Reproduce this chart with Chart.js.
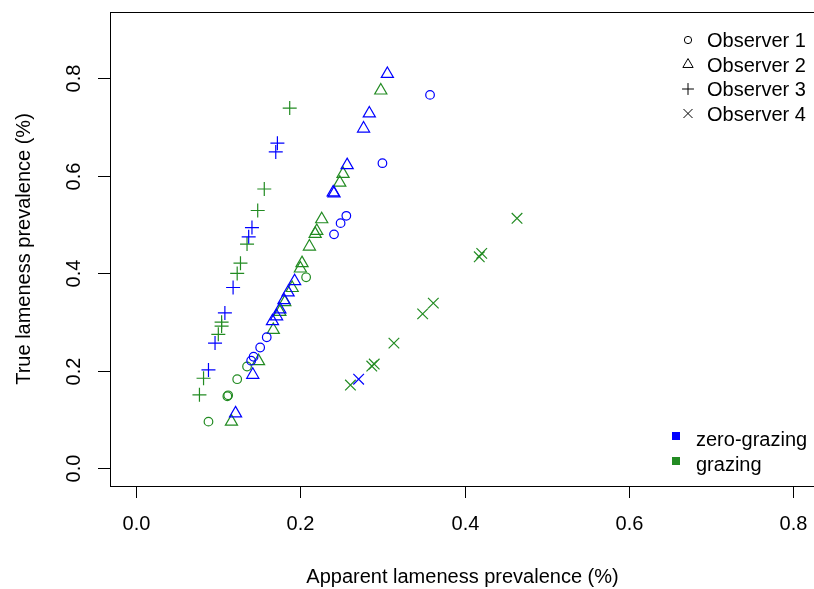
<!DOCTYPE html>
<html>
<head>
<meta charset="utf-8">
<script src="https://cdn.jsdelivr.net/npm/chart.js@4.4.0/dist/chart.umd.min.js"></script>
<style>
  html, body { margin: 0; padding: 0; background: #fff; overflow: hidden; }
  #caja { position: relative; width: 830px; height: 589px; }
</style>
</head>
<body>
<div id="caja"><canvas id="grafico" width="830" height="589"></canvas></div>
<script>
// valores leidos del grafico: [prevalencia aparente, prevalencia real]
// observador 1 (circulos)
var obs1Cero = [[0.358,0.766],[0.300,0.626],[0.256,0.518],[0.249,0.503],[0.241,0.480],
                [0.159,0.269],[0.151,0.248],[0.143,0.229],[0.140,0.221]];
var obs1Pastoreo = [[0.207,0.392],[0.135,0.209],[0.123,0.183],[0.112,0.150],[0.111,0.148],[0.088,0.096]];
// observador 2 (triangulos)
var obs2Cero = [[0.306,0.809],[0.284,0.728],[0.277,0.697],[0.257,0.622],[0.241,0.564],[0.240,0.566],
                [0.193,0.384],[0.185,0.361],[0.180,0.345],[0.175,0.326],[0.171,0.312],[0.166,0.302],
                [0.142,0.192],[0.121,0.113]];
var obs2Pastoreo = [[0.298,0.775],[0.252,0.604],[0.248,0.586],[0.226,0.511],[0.220,0.487],[0.218,0.481],
                    [0.211,0.455],[0.202,0.421],[0.200,0.410],[0.190,0.370],[0.181,0.341],[0.175,0.321],
                    [0.167,0.284],[0.149,0.220],[0.116,0.096]];
// observador 3 (cruces +)
var obs3Cero = [[0.172,0.667],[0.170,0.649],[0.141,0.494],[0.137,0.475],[0.118,0.371],[0.108,0.319],
                [0.096,0.257],[0.088,0.202]];
var obs3Pastoreo = [[0.187,0.739],[0.156,0.573],[0.148,0.529],[0.135,0.460],[0.127,0.421],[0.123,0.400],
                    [0.104,0.300],[0.104,0.292],[0.100,0.275],[0.082,0.185],[0.077,0.151]];
// observador 4 (x)
var obs4Cero = [[0.271,0.183]];
var obs4Pastoreo = [[0.464,0.513],[0.421,0.441],[0.418,0.434],[0.362,0.339],[0.349,0.317],[0.314,0.257],
                    [0.287,0.210],[0.290,0.214],[0.261,0.171]];

// ejes
var ticksEje = [0, 0.2, 0.4, 0.6, 0.8];
var etiquetasEje = ["0.0", "0.2", "0.4", "0.6", "0.8"];
var nombresObservador = ["Observer 1", "Observer 2", "Observer 3", "Observer 4"];
var nombresSistema = ["zero-grazing", "grazing"];

var AZUL = "#0000ff";
var VERDE = "#228b22";
var FUENTE = '20px "Liberation Sans", Arial, sans-serif';

var formas = [
  { estilo: "circle", radio: 4.3 },
  { estilo: "triangle", radio: 7 },
  { estilo: "cross", radio: 7 },
  { estilo: "crossRot", radio: 7.5 }
];

function serie(datos, color, forma) {
  return {
    data: datos.map(function(p) { return { x: p[0], y: p[1] }; }),
    pointStyle: forma.estilo,
    pointRadius: forma.radio,
    pointHoverRadius: forma.radio,
    pointBorderColor: color,
    pointBackgroundColor: "rgba(0,0,0,0)",
    pointBorderWidth: 1.2,
    showLine: false
  };
}

//dibuja los ejes al estilo de R, los titulos y las dos leyendas
var ejesR = {
  id: "ejesR",
  afterDraw: function(chart) {
    var ctx = chart.ctx;
    var area = chart.chartArea;
    var ejeX = chart.scales.x;
    var ejeY = chart.scales.y;
    ctx.save();
    ctx.strokeStyle = "#000";
    ctx.fillStyle = "#000";
    ctx.lineWidth = 1;
    // caja
    ctx.strokeRect(Math.round(area.left) + 0.5, Math.round(area.top) + 0.5,
                   Math.round(area.right - area.left), Math.round(area.bottom - area.top));
    ctx.font = FUENTE;
    // eje x
    ctx.textAlign = "center";
    ctx.textBaseline = "middle";
    ticksEje.forEach(function(v, i) {
      var px = Math.round(ejeX.getPixelForValue(v)) + 0.5;
      ctx.beginPath();
      ctx.moveTo(px, area.bottom);
      ctx.lineTo(px, area.bottom + 12);
      ctx.stroke();
      ctx.fillText(etiquetasEje[i], px, 524);
    });
    // eje y
    ticksEje.forEach(function(v, i) {
      var py = Math.round(ejeY.getPixelForValue(v)) + 0.5;
      ctx.beginPath();
      ctx.moveTo(area.left, py);
      ctx.lineTo(area.left - 12, py);
      ctx.stroke();
      ctx.save();
      ctx.translate(74, py);
      ctx.rotate(-Math.PI / 2);
      ctx.fillText(etiquetasEje[i], 0, 0);
      ctx.restore();
    });
    // titulos
    ctx.fillText("Apparent lameness prevalence (%)", (area.left + area.right) / 2 - 2, 577);
    ctx.save();
    ctx.translate(24, (area.top + area.bottom) / 2);
    ctx.rotate(-Math.PI / 2);
    ctx.fillText("True lameness prevalence (%)", 0, 0);
    ctx.restore();

    // leyenda de observadores
    ctx.textAlign = "left";
    ctx.textBaseline = "alphabetic";
    nombresObservador.forEach(function(nombre, i) {
      var y = 40 + i * 24.5;
      ctx.strokeStyle = "#000";
      ctx.fillStyle = "rgba(0,0,0,0)";
      ctx.lineWidth = 1;
      Chart.helpers.drawPoint(ctx, {
        pointStyle: formas[i].estilo,
        radius: formas[i].radio * 0.85,
        borderWidth: 1,
        rotation: 0
      }, 688, y);
      ctx.fillStyle = "#000";
      ctx.fillText(nombre, 707, y + 7);
    });
    // leyenda de sistemas
    [AZUL, VERDE].forEach(function(color, i) {
      var y = 436 + i * 25;
      ctx.fillStyle = color;
      ctx.fillRect(672, y - 4, 8, 8);
      ctx.fillStyle = "#000";
      ctx.fillText(nombresSistema[i], 696, y + 10);
    });
    ctx.restore();
  }
};

var canvas = document.getElementById("grafico");
var grafico = new Chart(canvas.getContext("2d"), {
  type: "scatter",
  data: {
    datasets: [
      serie(obs1Cero, AZUL, formas[0]),
      serie(obs1Pastoreo, VERDE, formas[0]),
      serie(obs2Cero, AZUL, formas[1]),
      serie(obs2Pastoreo, VERDE, formas[1]),
      serie(obs3Cero, AZUL, formas[2]),
      serie(obs3Pastoreo, VERDE, formas[2]),
      serie(obs4Cero, AZUL, formas[3]),
      serie(obs4Pastoreo, VERDE, formas[3])
    ]
  },
  options: {
    responsive: false,
    animation: false,
    layout: { padding: { left: 110, top: 12, right: 11, bottom: 103 } },
    plugins: { legend: { display: false }, tooltip: { enabled: false } },
    scales: {
      x: { type: "linear", min: -0.032, max: 0.832, display: false },
      y: { type: "linear", min: -0.036, max: 0.936, display: false }
    }
  },
  plugins: [ejesR]
});
</script>
</body>
</html>
